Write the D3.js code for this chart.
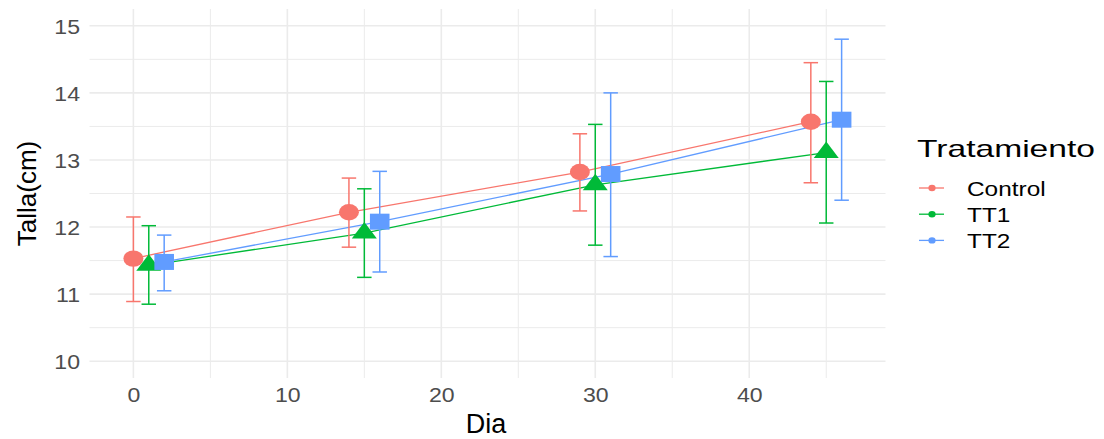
<!DOCTYPE html>
<html>
<head>
<meta charset="utf-8">
<script src="https://cdn.jsdelivr.net/npm/d3@7"></script>
<style>
  html, body { margin: 0; padding: 0; background: #ffffff; }
  svg { display: block; }
  text { font-family: "Liberation Sans", Arial, sans-serif; }
</style>
</head>
<body>
<svg id="chart" width="1104" height="439"></svg>
<script>
// ---- Data ----
const seriesNames = ["Control", "TT1", "TT2"];
const seriesColors = ["#F8766D", "#00BA38", "#619CFF"];
const controlDia = [0, 14, 29, 44];
const controlMean = [11.53, 12.22, 12.82, 13.57];
const controlLow = [10.89, 11.70, 12.24, 12.66];
const controlHigh = [12.15, 12.73, 13.39, 14.45];
const tt1Dia = [1, 15, 30, 45];
const tt1Mean = [11.43, 11.91, 12.63, 13.11];
const tt1Low = [10.85, 11.25, 11.73, 12.06];
const tt1High = [12.02, 12.57, 13.53, 14.17];
const tt2Dia = [2, 16, 31, 46];
const tt2Mean = [11.48, 12.08, 12.79, 13.60];
const tt2Low = [11.05, 11.33, 11.56, 12.40];
const tt2High = [11.88, 12.83, 14.00, 14.80];
const xTicks = [0, 10, 20, 30, 40];
const xMinor = [5, 15, 25, 35, 45];
const yTicks = [10, 11, 12, 13, 14, 15];
const yMinor = [10.5, 11.5, 12.5, 13.5, 14.5];
const xTitle = "Dia";
const yTitle = "Talla(cm)";
const legendTitle = "Tratamiento";

const series = [
  {name: seriesNames[0], color: seriesColors[0], shape: "circle", dia: controlDia, mean: controlMean, low: controlLow, high: controlHigh},
  {name: seriesNames[1], color: seriesColors[1], shape: "triangle", dia: tt1Dia, mean: tt1Mean, low: tt1Low, high: tt1High},
  {name: seriesNames[2], color: seriesColors[2], shape: "square", dia: tt2Dia, mean: tt2Mean, low: tt2Low, high: tt2High}
];

// ---- Layout ----
const svg = d3.select("#chart");
const panel = {left: 89.5, right: 885.5, top: 9, bottom: 378};
const x = d3.scaleLinear().domain([-2.85, 48.85]).range([panel.left, panel.right]);
const y = d3.scaleLinear().domain([9.75, 15.25]).range([panel.bottom, panel.top]);
const grid = "#ebebeb";

// grid lines
const g = svg.append("g");
g.selectAll(".ymin").data(yMinor).join("line")
  .attr("x1", panel.left).attr("x2", panel.right)
  .attr("y1", d => y(d)).attr("y2", d => y(d))
  .attr("stroke", grid).attr("stroke-width", 1);
g.selectAll(".xmin").data(xMinor).join("line")
  .attr("y1", panel.top).attr("y2", panel.bottom)
  .attr("x1", d => x(d)).attr("x2", d => x(d))
  .attr("stroke", grid).attr("stroke-width", 1);
g.selectAll(".ymaj").data(yTicks).join("line")
  .attr("x1", panel.left).attr("x2", panel.right)
  .attr("y1", d => y(d)).attr("y2", d => y(d))
  .attr("stroke", grid).attr("stroke-width", 1.6);
g.selectAll(".xmaj").data(xTicks).join("line")
  .attr("y1", panel.top).attr("y2", panel.bottom)
  .attr("x1", d => x(d)).attr("x2", d => x(d))
  .attr("stroke", grid).attr("stroke-width", 1.6);

// axes (using d3 axis, domain/ticks hidden to mimic ggplot minimal)
const xAxis = d3.axisBottom(x).tickValues(xTicks).tickSize(0).tickPadding(0).tickFormat(d3.format("d"));
const xa = svg.append("g").attr("transform", `translate(0,${panel.bottom + 24})`).call(xAxis);
xa.select(".domain").remove();
xa.selectAll("text").attr("font-size", 21).attr("fill", "#4d4d4d").attr("dy", 0)
  .attr("transform", "scale(1.1,1)").attr("x", 0)
  .attr("font-family", "Liberation Sans, Arial, sans-serif");

const yAxis = d3.axisLeft(y).tickValues(yTicks).tickSize(0).tickPadding(0).tickFormat(d3.format("d"));
const ya = svg.append("g").attr("transform", `translate(80,0)`).call(yAxis);
ya.select(".domain").remove();
ya.selectAll("text").attr("font-size", 21).attr("fill", "#4d4d4d").attr("dy", "0.36em")
  .attr("transform", "scale(1.1,1)").attr("x", 0)
  .attr("font-family", "Liberation Sans, Arial, sans-serif");

// titles
svg.append("text").attr("x", 486).attr("y", 433).attr("text-anchor", "middle")
  .attr("font-size", 27).attr("fill", "#000").text(xTitle);
svg.append("text").attr("transform", `translate(36,${(panel.top + panel.bottom) / 2}) rotate(-90)`)
  .attr("text-anchor", "middle").attr("font-size", 26).attr("fill", "#000").text(yTitle);

// lines
const line = d3.line().x(d => x(d[0])).y(d => y(d[1]));
series.forEach(s => {
  const pts = s.dia.map((d, i) => [d, s.mean[i]]);
  svg.append("path").datum(pts).attr("d", line)
    .attr("fill", "none").attr("stroke", s.color).attr("stroke-width", 1.3);
});

// error bars
series.forEach(s => {
  const eg = svg.append("g").attr("stroke", s.color).attr("stroke-width", 1.5).attr("fill", "none");
  s.dia.forEach((d, i) => {
    eg.append("line").attr("x1", x(d)).attr("x2", x(d)).attr("y1", y(s.low[i])).attr("y2", y(s.high[i]));
    eg.append("line").attr("x1", x(d - 0.47)).attr("x2", x(d + 0.47)).attr("y1", y(s.low[i])).attr("y2", y(s.low[i]));
    eg.append("line").attr("x1", x(d - 0.47)).attr("x2", x(d + 0.47)).attr("y1", y(s.high[i])).attr("y2", y(s.high[i]));
  });
});

// points
series.forEach(s => {
  const pg = svg.append("g").attr("fill", s.color);
  s.dia.forEach((d, i) => {
    const cx = x(d), cy = y(s.mean[i]);
    if (s.shape === "circle") {
      pg.append("ellipse").attr("cx", cx).attr("cy", cy).attr("rx", 10).attr("ry", 8.2);
    } else if (s.shape === "square") {
      pg.append("rect").attr("x", cx - 9.8).attr("y", cy - 8).attr("width", 19.6).attr("height", 16);
    } else {
      const h = 16.5, w = 25;
      pg.append("path").attr("d",
        `M${cx},${cy - h * 2 / 3} L${cx + w / 2},${cy + h / 3} L${cx - w / 2},${cy + h / 3} Z`);
    }
  });
});

// legend
const lg = svg.append("g");
lg.append("text").attr("transform", "translate(917,157) scale(1.4,1)")
  .attr("font-size", 24).attr("fill", "#000").text(legendTitle);
series.forEach((s, i) => {
  const ly = 188 + i * 26.2;
  lg.append("line").attr("x1", 919).attr("x2", 944).attr("y1", ly).attr("y2", ly)
    .attr("stroke", s.color).attr("stroke-width", 1.3);
  lg.append("ellipse").attr("cx", 932).attr("cy", ly).attr("rx", 3.6).attr("ry", 3.2).attr("fill", s.color);
  lg.append("text").attr("transform", `translate(967,${ly + 7.5}) scale(1.22,1)`)
    .attr("font-size", 20).attr("fill", "#000").text(s.name);
});
</script>
</body>
</html>
